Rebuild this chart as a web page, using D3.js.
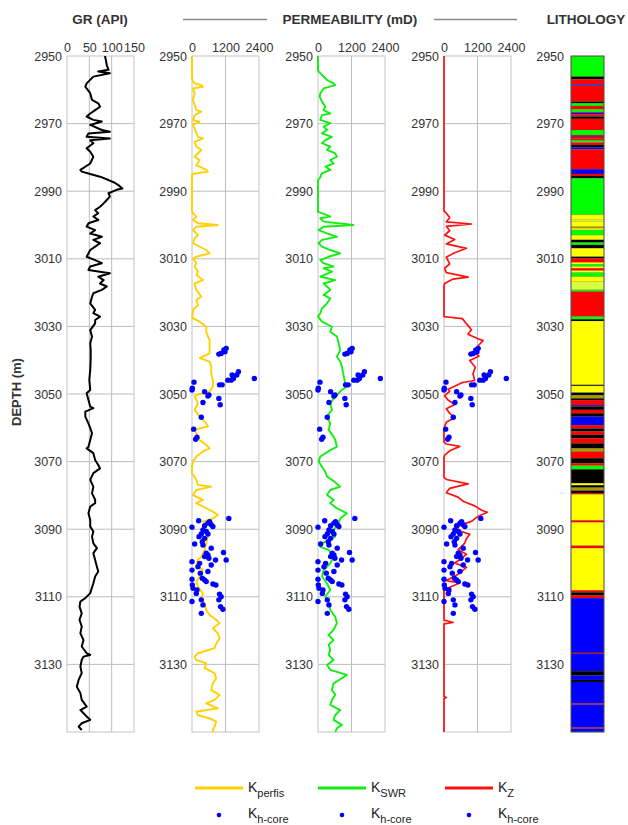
<!DOCTYPE html>
<html><head><meta charset="utf-8">
<script src="https://cdn.jsdelivr.net/npm/d3@7"></script>
<style>
html,body{margin:0;padding:0;background:#fff;}
svg text{font-family:"Liberation Sans",Arial,sans-serif;}
</style></head>
<body>
<svg id="chart" width="628" height="825"></svg>
<script>
// ---------------- DATA ----------------
const depthTicks = [2950,2970,2990,3010,3030,3050,3070,3090,3110,3130];
const grTicks = [0,50,100,150];
const permTicks = [0,1200,2400];

// GR curve: [depth (m), GR (API)]
const grCurve = [[2950.0,85],[2951.2,87],[2952.7,89],[2954.1,93],[2954.6,70],[2955.1,96],[2956.1,59],[2958.1,44],[2959.1,41],[2961.0,52],[2963.0,56],[2964.0,70],[2965.0,74],[2966.0,63],[2967.0,52],[2967.9,44],[2968.9,59],[2969.4,78],[2970.4,52],[2971.9,78],[2972.4,96],[2972.9,48],[2973.9,44],[2974.4,96],[2974.9,52],[2975.8,59],[2977.3,44],[2978.3,52],[2979.8,59],[2981.8,52],[2983.7,30],[2984.2,33],[2984.9,52],[2985.7,74],[2986.7,93],[2987.5,107],[2988.2,115],[2989.2,124],[2989.6,111],[2990.6,93],[2991.6,96],[2992.6,89],[2993.6,82],[2994.6,74],[2995.6,63],[2996.5,70],[2997.5,59],[2998.5,70],[2999.5,48],[3000.5,44],[3001.5,63],[3002.5,52],[3003.5,78],[3004.4,59],[3005.4,74],[3006.4,63],[3007.4,52],[3008.4,48],[3009.4,44],[3010.4,63],[3011.3,78],[3012.3,52],[3013.3,48],[3014.3,96],[3015.3,70],[3016.3,82],[3017.3,74],[3018.2,89],[3019.2,78],[3020.2,59],[3021.2,56],[3023.2,52],[3025.1,63],[3026.1,59],[3027.1,74],[3028.1,63],[3029.1,63],[3031.1,52],[3033.0,56],[3035.0,52],[3037.0,53],[3039.9,53],[3042.9,52],[3045.8,50],[3048.8,52],[3049.8,44],[3051.8,48],[3053.7,52],[3054.2,59],[3055.2,41],[3056.7,41],[3058.7,48],[3060.1,52],[3061.6,56],[3063.6,52],[3065.6,48],[3066.1,44],[3067.5,59],[3069.5,63],[3071.0,70],[3072.0,74],[3073.4,59],[3075.4,52],[3077.4,59],[3079.4,56],[3081.3,63],[3082.3,63],[3083.3,52],[3085.3,48],[3087.3,52],[3089.2,52],[3090.7,59],[3092.2,56],[3094.2,59],[3095.6,67],[3097.1,59],[3099.1,63],[3101.1,67],[3102.5,70],[3104.0,63],[3106.0,59],[3108.9,52],[3110.4,41],[3111.4,30],[3112.9,28],[3114.9,33],[3116.8,28],[3118.8,33],[3120.8,30],[3122.8,37],[3124.7,33],[3126.7,44],[3127.2,52],[3127.7,37],[3128.7,33],[3130.6,30],[3132.6,33],[3134.6,26],[3136.6,22],[3138.5,30],[3140.5,33],[3142.5,44],[3143.5,30],[3145.4,44],[3146.4,52],[3147.4,33],[3148.4,26],[3149.4,33]];

// K perfis curve: [depth, mD]
const kPerfis = [[2950,0],[2956.6,0],[2957.6,36],[2958.1,95],[2958.6,333],[2959.1,392],[2959.6,36],[2961.1,95],[2963.0,36],[2966.0,154],[2966.5,333],[2967.5,95],[2969.0,36],[2969.4,273],[2970.4,36],[2973.9,214],[2974.4,392],[2975.4,95],[2976.8,154],[2977.8,333],[2979.8,95],[2980.8,273],[2982.3,154],[2983.7,511],[2984.2,570],[2984.9,36],[2985.2,0],[2996.1,0],[2996.5,36],[2997.5,154],[2998.5,36],[2999.5,214],[3000.0,927],[3000.5,154],[3001.5,36],[3003.0,214],[3003.9,95],[3005.4,36],[3007.4,511],[3008.4,630],[3009.4,154],[3009.9,36],[3011.3,154],[3012.3,95],[3013.8,214],[3014.8,154],[3016.3,392],[3017.3,95],[3019.2,154],[3021.2,333],[3022.2,154],[3023.7,214],[3025.1,36],[3027.1,12],[3027.6,36],[3028.6,273],[3030.1,511],[3031.6,511],[3033.0,570],[3034.0,630],[3036.0,630],[3038.0,630],[3039.4,273],[3040.4,630],[3041.9,689],[3043.9,689],[3045.9,748],[3047.8,748],[3049.3,630],[3050.3,150],[3050.8,95],[3052.7,214],[3054.7,95],[3056.7,273],[3058.7,511],[3059.6,570],[3060.6,95],[3061.6,154],[3063.6,273],[3065.1,511],[3066.1,630],[3067.0,392],[3068.5,154],[3070.0,36],[3071.5,0],[3073.5,0],[3073.9,36],[3075.4,154],[3076.9,214],[3077.4,689],[3078.4,154],[3079.9,36],[3081.3,392],[3082.3,154],[3083.8,511],[3084.8,748],[3085.8,927],[3086.8,748],[3087.8,392],[3088.7,511],[3090.2,451],[3092.2,570],[3094.2,511],[3096.1,451],[3098.1,333],[3099.1,214],[3100.6,154],[3102.1,392],[3104.0,273],[3105.5,154],[3107.0,214],[3109.0,392],[3110.4,333],[3111.9,451],[3113.9,511],[3115.4,630],[3116.8,867],[3117.8,986],[3119.3,748],[3120.8,927],[3122.3,986],[3123.8,867],[3125.2,808],[3126.7,214],[3127.7,95],[3128.7,154],[3129.7,511],[3131.1,451],[3132.6,808],[3134.1,867],[3135.6,748],[3137.6,689],[3139.0,986],[3140.5,808],[3141.5,511],[3143.0,927],[3144.0,154],[3145.0,214],[3146.0,630],[3146.9,867],[3148.4,808],[3149.4,748],[3150,748]];

// K SWR curve: [depth, mD]
const kSWR = [[2950,0],[2954.1,0],[2954.6,24],[2955.6,143],[2957.1,321],[2958.1,558],[2958.6,618],[2959.6,202],[2961.0,83],[2962.0,59],[2963.5,143],[2965.0,261],[2966.0,202],[2967.0,440],[2967.5,143],[2968.9,83],[2969.9,440],[2970.9,202],[2971.9,321],[2972.9,143],[2973.9,499],[2974.9,261],[2975.8,143],[2976.8,440],[2977.8,321],[2978.8,618],[2979.8,677],[2980.8,440],[2981.8,558],[2982.7,261],[2983.7,440],[2984.7,143],[2986.2,59],[2986.7,0],[2996.1,0],[2996.5,143],[2997.5,440],[2998.0,83],[2999.0,202],[3000.0,1271],[3000.5,202],[3001.5,24],[3002.5,321],[3003.5,677],[3004.4,143],[3005.4,24],[3006.4,143],[3007.4,440],[3008.4,796],[3009.4,380],[3010.4,83],[3011.3,202],[3012.3,558],[3012.8,202],[3013.8,499],[3015.3,83],[3016.3,618],[3017.3,202],[3018.2,321],[3019.2,440],[3020.7,202],[3021.7,440],[3023.2,321],[3024.7,143],[3026.1,83],[3027.1,0],[3028.6,143],[3030.1,499],[3031.6,440],[3033.0,677],[3035.0,737],[3037.0,796],[3039.0,677],[3040.4,796],[3041.9,855],[3044.4,915],[3046.8,974],[3047.8,1034],[3048.8,855],[3050.8,618],[3052.7,440],[3054.7,499],[3056.7,321],[3058.7,440],[3060.6,380],[3062.6,558],[3063.6,618],[3065.6,677],[3066.6,440],[3068.5,83],[3070.0,24],[3071.5,143],[3073.0,261],[3074.4,321],[3075.4,499],[3077.4,796],[3078.4,440],[3079.9,321],[3081.3,558],[3082.3,440],[3083.8,677],[3085.3,1034],[3086.8,796],[3088.2,737],[3090.2,558],[3092.2,618],[3094.2,143],[3095.2,83],[3096.1,380],[3098.1,558],[3100.1,440],[3102.1,202],[3104.0,143],[3106.0,321],[3108.0,440],[3109.9,261],[3111.9,380],[3113.9,440],[3115.9,618],[3117.8,677],[3119.8,558],[3121.3,380],[3122.8,558],[3124.2,380],[3125.7,440],[3127.2,380],[3128.7,558],[3130.2,321],[3131.6,440],[3133.1,1034],[3134.1,855],[3135.6,558],[3137.6,499],[3139.0,618],[3140.5,499],[3142.0,440],[3143.5,796],[3145.0,618],[3146.4,558],[3147.9,855],[3148.9,677],[3150,618]];

// K Z curve: [depth, mD]
const kZ = [[2950,0],[2995.8,0],[2996.5,84],[2997.8,204],[2999.1,84],[2999.7,984],[3000.4,84],[3001.7,204],[3003.0,24],[3004.3,384],[3005.6,84],[3006.9,804],[3008.2,384],[3009.5,84],[3011.5,204],[3012.8,24],[3014.1,84],[3015.4,864],[3016.0,324],[3017.3,24],[3018.0,0],[3027.1,0],[3027.3,204],[3027.7,660],[3029.0,780],[3029.7,860],[3031.0,980],[3032.3,860],[3033.6,1200],[3034.2,1400],[3035.5,1250],[3037.5,1050],[3038.8,1250],[3040.1,920],[3042.1,1120],[3044.0,1040],[3046.0,1100],[3046.6,660],[3047.9,324],[3048.6,144],[3049.2,204],[3050.5,24],[3051.8,144],[3053.1,384],[3054.4,84],[3055.7,204],[3057.0,384],[3058.3,84],[3059.6,24],[3060.9,0],[3064.2,0],[3064.8,84],[3065.5,564],[3066.8,204],[3068.1,24],[3068.8,0],[3074.6,0],[3075.3,84],[3076.6,864],[3077.9,204],[3079.2,84],[3080.5,504],[3081.8,700],[3083.1,1100],[3084.4,1350],[3085.0,1550],[3086.3,1200],[3087.6,1000],[3088.9,564],[3090.2,444],[3091.5,924],[3092.8,804],[3094.1,744],[3096.1,504],[3097.4,804],[3098.7,624],[3100.0,384],[3101.3,804],[3103.3,504],[3105.2,84],[3105.9,564],[3107.2,204],[3107.8,0],[3116.9,0],[3117.3,204],[3117.6,324],[3118.0,0],[3139.5,0],[3139.8,84],[3140.1,0],[3150,0]];

// Core horizontal permeability (same points in the three permeability tracks)
const coreDepth = [3036.5,3037.0,3037.5,3038.0,3038.2,3043.4,3044.4,3044.4,3045.4,3045.9,3045.9,3045.4,3047.3,3047.3,3046.5,3048.3,3049.3,3050.3,3051.3,3048.8,3050.6,3052.5,3053.2,3056.9,3060.4,3062.8,3063.4,3086.8,3087.5,3087.8,3088.2,3088.7,3089.0,3089.2,3089.4,3090.2,3090.7,3091.4,3091.4,3092.2,3092.7,3093.7,3094.4,3094.7,3095.6,3097.1,3097.6,3098.1,3096.9,3098.6,3099.1,3099.1,3099.6,3100.1,3100.6,3101.1,3102.1,3102.5,3103.0,3104.8,3104.5,3105.0,3105.5,3106.2,3106.5,3106.5,3107.5,3108.0,3109.0,3109.2,3110.0,3110.9,3111.4,3110.9,3112.4,3112.9,3113.7,3114.9];
const corePerm  = [1224,1140,1180,1045,962,1663,1604,1437,1485,1402,1283,2233,1081,986,71,12,451,606,962,0,570,392,1010,333,59,178,131,1319,238,630,570,689,451,748,0,392,511,333,570,250,451,368,95,392,689,511,570,451,1129,606,844,1224,0,273,689,214,0,570,297,0,368,451,511,748,855,12,36,178,154,986,1045,962,0,333,392,1021,1105,333];

// Lithology intervals: [top, bottom, lithology code]
const lithology = [[2950,2956.1,"G"],[2956.1,2956.9,"K"],[2956.9,2958.4,"R"],[2958.4,2958.8,"B"],[2958.8,2963.5,"R"],[2963.5,2964.0,"K"],[2964.0,2964.8,"G"],[2964.8,2965.8,"R"],[2965.8,2966.6,"G"],[2966.6,2966.8,"R"],[2966.8,2967.3,"B"],[2967.3,2967.9,"R"],[2967.9,2968.6,"K"],[2968.6,2971.9,"R"],[2971.9,2973.4,"G"],[2973.4,2974.4,"D"],[2974.4,2975.0,"R"],[2975.0,2975.6,"G"],[2975.6,2976.3,"R"],[2976.3,2977.0,"K"],[2977.0,2977.6,"B"],[2977.6,2983.5,"R"],[2983.5,2984.9,"B"],[2984.9,2985.5,"R"],[2985.5,2986.2,"K"],[2986.2,2997.0,"G"],[2997.0,2998.5,"Y"],[2998.5,2999.0,"L"],[2999.0,3000.5,"Y"],[3000.5,3001.0,"O"],[3001.0,3001.5,"Y"],[3001.5,3003.0,"G"],[3003.0,3004.4,"Y"],[3004.4,3005.2,"K"],[3005.2,3005.9,"G"],[3005.9,3006.9,"K"],[3006.9,3009.4,"Y"],[3009.4,3009.9,"K"],[3009.9,3011.1,"R"],[3011.1,3011.6,"Y"],[3011.6,3012.3,"G"],[3012.3,3012.8,"Y"],[3012.8,3013.5,"R"],[3013.5,3014.1,"Y"],[3014.1,3015.3,"G"],[3015.3,3016.8,"Y"],[3016.8,3019.2,"L"],[3019.2,3019.7,"G"],[3019.7,3027.1,"R"],[3027.1,3027.9,"G"],[3027.9,3028.4,"K"],[3028.4,3047.3,"Y"],[3047.3,3047.6,"K"],[3047.6,3049.6,"Y"],[3049.6,3050.3,"K"],[3050.3,3051.3,"O"],[3051.3,3051.8,"K"],[3051.8,3053.3,"R"],[3053.3,3053.7,"B"],[3053.7,3054.7,"K"],[3054.7,3055.7,"R"],[3055.7,3056.7,"K"],[3056.7,3059.2,"B"],[3059.2,3060.2,"R"],[3060.2,3061.1,"K"],[3061.1,3062.1,"R"],[3062.1,3063.1,"K"],[3063.1,3064.6,"R"],[3064.6,3066.1,"K"],[3066.1,3067.1,"O"],[3067.1,3069.0,"R"],[3069.0,3070.5,"K"],[3070.5,3071.2,"R"],[3071.2,3072.3,"G"],[3072.3,3076.4,"K"],[3076.4,3077.0,"Y"],[3077.0,3077.7,"K"],[3077.7,3078.6,"O"],[3078.6,3079.3,"K"],[3079.3,3079.7,"R"],[3079.7,3087.4,"Y"],[3087.4,3088.0,"R"],[3088.0,3094.9,"Y"],[3094.9,3095.6,"R"],[3095.6,3108.1,"Y"],[3108.1,3108.7,"R"],[3108.7,3109.6,"K"],[3109.6,3110.4,"R"],[3110.4,3126.6,"B"],[3126.6,3126.9,"R"],[3126.9,3132.0,"B"],[3132.0,3133.3,"K"],[3133.3,3134.6,"B"],[3134.6,3135.2,"K"],[3135.2,3141.6,"B"],[3141.6,3141.9,"R"],[3141.9,3148.7,"B"],[3148.7,3149.0,"R"],[3149.0,3150,"B"]];

const lithoColors = {G:"#00ff00",R:"#ff0000",Y:"#ffff00",K:"#000000",B:"#0000ff",D:"#b0103a",O:"#a89a00",L:"#d8ff40"};

// ---------------- CHART ----------------
const svg = d3.select("#chart");
const textColor = "#333";
const y = d3.scaleLinear().domain([2950,3150]).range([56,732]);

const tracks = [
  {x0:67,  x1:134, domain:[0,150],  ticks:grTicks,   grid:[50,100], data:grCurve, color:"#000", width:2},
  {x0:192, x1:259, domain:[0,2400], ticks:permTicks, grid:[1200],   data:kPerfis, color:"#ffd000", width:1.9, core:true},
  {x0:318, x1:385, domain:[0,2400], ticks:permTicks, grid:[1200],   data:kSWR,    color:"#11ee11", width:1.9, core:true},
  {x0:444, x1:511, domain:[0,2400], ticks:permTicks, grid:[1200],   data:kZ,      color:"#ff1010", width:1.7, core:true}
];

function styleAxis(g){
  g.select(".domain").remove();
  g.selectAll("text").attr("fill",textColor).style("font-size","12.5px")
    .style("font-family","'Liberation Sans',Arial,sans-serif");
}

tracks.forEach((t,i)=>{
  const x = d3.scaleLinear().domain(t.domain).range([t.x0,t.x1]);
  const g = svg.append("g");
  g.selectAll("line.h").data(depthTicks.slice(1)).join("line")
    .attr("x1",t.x0).attr("x2",t.x1).attr("y1",d=>y(d)).attr("y2",d=>y(d))
    .attr("stroke","#bdbdbd").attr("stroke-width",1);
  g.selectAll("line.v").data(t.grid).join("line")
    .attr("x1",d=>x(d)).attr("x2",d=>x(d)).attr("y1",y(2950)).attr("y2",y(3150))
    .attr("stroke","#bdbdbd").attr("stroke-width",1);
  g.append("rect").attr("x",t.x0).attr("y",y(2950)).attr("width",t.x1-t.x0).attr("height",y(3150)-y(2950))
    .attr("fill","none").attr("stroke","#c4c4c4").attr("stroke-width",1);
  const clipId = "clip"+i;
  svg.append("clipPath").attr("id",clipId).append("rect")
    .attr("x",t.x0-1).attr("y",y(2950)).attr("width",t.x1-t.x0+2).attr("height",y(3150)-y(2950));
  g.append("path").datum(t.data)
    .attr("clip-path",`url(#${clipId})`)
    .attr("d",d3.line().x(d=>x(d[1])).y(d=>y(d[0])))
    .attr("fill","none").attr("stroke",t.color).attr("stroke-width",t.width)
    .attr("stroke-linejoin","round");
  if(t.core){
    g.selectAll("circle").data(coreDepth.map((d,k)=>[d,corePerm[k]])).join("circle")
      .attr("cx",d=>x(d[1])).attr("cy",d=>y(d[0])).attr("r",2.7).attr("fill","#0000ff");
  }
  svg.append("g").attr("transform",`translate(0,${y(2950)-4})`)
    .call(d3.axisTop(x).tickValues(t.ticks).tickSize(0).tickPadding(0).tickFormat(d3.format("d")))
    .call(styleAxis);
  svg.append("g").attr("transform",`translate(${t.x0},0)`)
    .call(d3.axisLeft(y).tickValues(depthTicks).tickSize(0).tickPadding(5).tickFormat(d3.format("d")))
    .call(styleAxis);
});

// Lithology track
const lx0 = 571, lx1 = 604;
const lg = svg.append("g");
lg.selectAll("rect").data(lithology).join("rect")
  .attr("x",lx0).attr("width",lx1-lx0)
  .attr("y",d=>y(d[0])).attr("height",d=>Math.max(0.6,y(d[1])-y(d[0])))
  .attr("fill",d=>lithoColors[d[2]])
  .attr("stroke","rgba(60,60,0,0.35)").attr("stroke-width",0.4);
lg.append("rect").attr("x",lx0).attr("y",y(2950)).attr("width",lx1-lx0).attr("height",y(3150)-y(2950))
  .attr("fill","none").attr("stroke","#555").attr("stroke-width",1);
svg.append("g").attr("transform",`translate(${lx0},0)`)
  .call(d3.axisLeft(y).tickValues(depthTicks).tickSize(0).tickPadding(7).tickFormat(d3.format("d")))
  .call(styleAxis);

// Titles
const bold = sel => sel.attr("fill",textColor).style("font-weight","bold").style("font-size","13.5px");
svg.append("text").attr("x",100).attr("y",24).attr("text-anchor","middle").text("GR (API)").call(bold);
svg.append("text").attr("x",350).attr("y",24).attr("text-anchor","middle").text("PERMEABILITY (mD)").call(bold);
svg.append("text").attr("x",586).attr("y",24).attr("text-anchor","middle").text("LITHOLOGY").call(bold);
svg.append("line").attr("x1",183).attr("x2",267).attr("y1",19.5).attr("y2",19.5).attr("stroke","#8a8a8a").attr("stroke-width",1.4);
svg.append("line").attr("x1",434).attr("x2",517).attr("y1",19.5).attr("y2",19.5).attr("stroke","#8a8a8a").attr("stroke-width",1.4);
svg.append("text").attr("transform","translate(21,392) rotate(-90)").attr("text-anchor","middle")
  .text("DEPTH (m)").call(bold).style("font-size","13px");

// Legend
const legendItems = [
  {x:195, color:"#ffd000", sub:"perfis"},
  {x:318, color:"#11ee11", sub:"SWR"},
  {x:445, color:"#ff1010", sub:"Z"}
];
const leg = svg.append("g");
legendItems.forEach(it=>{
  leg.append("line").attr("x1",it.x).attr("x2",it.x+48).attr("y1",788).attr("y2",788)
    .attr("stroke",it.color).attr("stroke-width",3);
  const t1 = leg.append("text").attr("x",it.x+53).attr("y",792).attr("fill","#222").style("font-size","14px");
  t1.append("tspan").text("K");
  t1.append("tspan").attr("dy",5).style("font-size","11px").text(it.sub);
  leg.append("circle").attr("cx",it.x+24).attr("cy",815).attr("r",2.3).attr("fill","#0000ff");
  const t2 = leg.append("text").attr("x",it.x+53).attr("y",818).attr("fill","#222").style("font-size","14px");
  t2.append("tspan").text("K");
  t2.append("tspan").attr("dy",5).style("font-size","11px").text("h-core");
});
</script>
</body></html>
